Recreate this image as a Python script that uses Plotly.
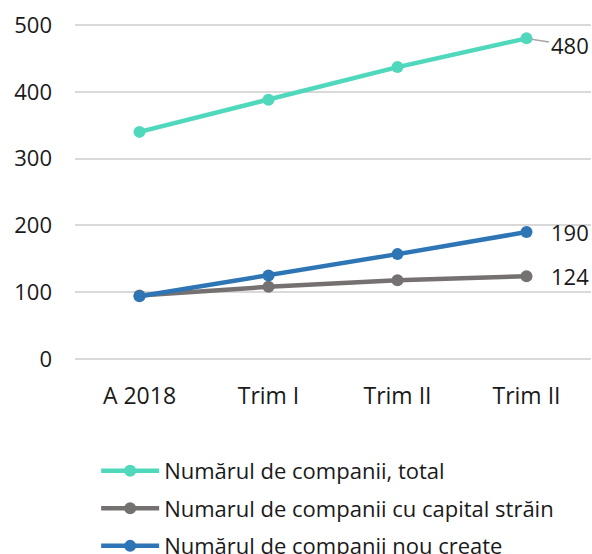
import plotly.graph_objects as go

TEAL = "#4FD8BC"
GRAY = "#767171"
BLUE = "#2E75B6"
GRID = "#D9D9D9"

categories = ["A 2018", "Trim I", "Trim II", "Trim II"]
total = [340, 388, 437, 480]
foreign = [95, 108, 118, 124]
new_created = [94, 125, 157, 190]

x_pos = list(range(len(categories)))

fig = go.Figure()
series = [
    ("Numărul de companii, total", total, TEAL),
    ("Numarul de companii cu capital străin", foreign, GRAY),
    ("Numărul de companii nou create", new_created, BLUE),
]
for name, vals, color in series:
    fig.add_trace(go.Scatter(
        x=x_pos, y=vals, name=name, legendgroup=name, mode="lines+markers",
        line=dict(color=color, width=4.5),
        marker=dict(size=12, color=color),
        cliponaxis=False,
    ))

# end-point labels
lbl_font = dict(size=22, color="#1a1a1a")
fig.add_annotation(x=x_pos[-1], y=total[-1], text=str(total[-1]),
                   showarrow=True, arrowhead=0, arrowcolor="#A6A6A6", arrowwidth=1.5,
                   ax=43, ay=7, standoff=5, font=lbl_font)
fig.add_annotation(x=x_pos[-1], y=new_created[-1], text=str(new_created[-1]),
                   showarrow=False, xshift=43, font=lbl_font)
fig.add_annotation(x=x_pos[-1], y=foreign[-1], text=str(foreign[-1]),
                   showarrow=False, xshift=43, font=lbl_font)

fig.update_layout(
    width=592, height=554,
    paper_bgcolor="white", plot_bgcolor="white",
    font=dict(family="Open Sans, Noto Sans, sans-serif", color="#1a1a1a", size=18),
    margin=dict(l=75, r=1, t=21, b=191, autoexpand=False),
    showlegend=True,
    legend=dict(x=0.041, y=-0.254, xanchor="left", yanchor="top",
                traceorder="grouped", tracegroupgap=6,
                font=dict(size=22, color="#1a1a1a"), itemwidth=58),
    xaxis=dict(tickvals=x_pos, ticktext=categories, range=[-0.5, 3.5],
               showgrid=False, zeroline=False, showline=False,
               ticklabelstandoff=17, tickfont=dict(size=23)),
    yaxis=dict(range=[-6, 506], tickvals=[0, 100, 200, 300, 400, 500],
               gridcolor=GRID, gridwidth=1.5,
               zeroline=False, showline=False, ticklabelstandoff=22,
               tickfont=dict(size=22)),
)

# drop the default 8px body margin so the figure fills the window
fig.write_html("out.html", config={"displayModeBar": False},
               post_script="document.body.style.margin='0';")
